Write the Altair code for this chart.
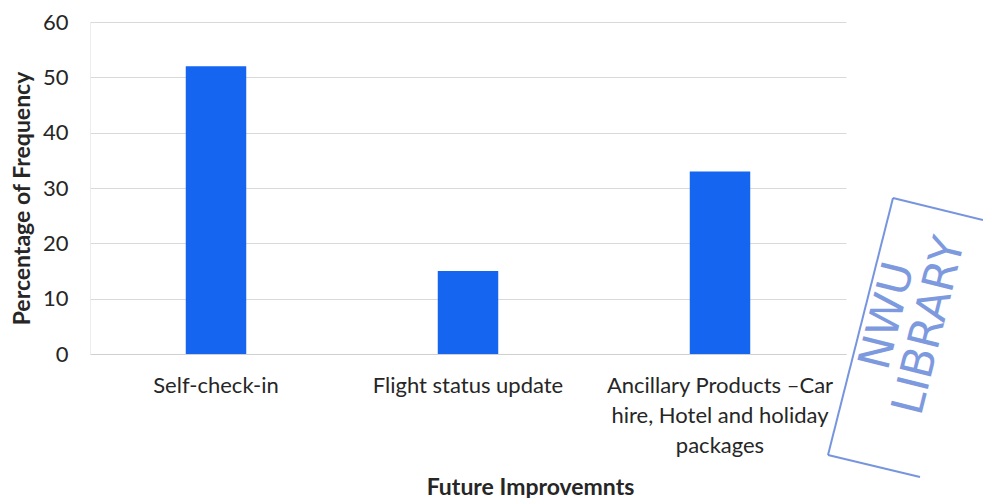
import altair as alt
import pandas as pd

categories = [
    "Self-check-in",
    "Flight status update",
    "Ancillary Products \u2013Car hire, Hotel and holiday packages",
]
values = [52, 15, 33]
y_ticks = [0, 10, 20, 30, 40, 50, 60]
stamp_lines = ["NWU", "LIBRARY"]

df = pd.DataFrame({"category": categories, "value": values})

label_expr = (
    "datum.label == 'Ancillary Products \u2013Car hire, Hotel and holiday packages' ? "
    "['Ancillary Products \u2013Car', 'hire, Hotel and holiday', 'packages'] : datum.label"
)

FONT = "Lato"
STAMP = "#5f82d8"

bars = alt.Chart(df).mark_bar(color="#1565f0").encode(
    x=alt.X(
        "category:N",
        sort=categories,
        scale=alt.Scale(paddingInner=0.76, paddingOuter=0.38),
        axis=alt.Axis(
            title="Future Improvemnts",
            labelAngle=0,
            labelExpr=label_expr,
            labelFont=FONT,
            labelFontSize=22,
            labelColor="#262626",
            labelPadding=21,
            labelLineHeight=30,
            labelLimit=0,
            ticks=False,
            domainColor="#d0d0d0",
            titleFont=FONT,
            titleFontSize=23,
            titleFontWeight="bold",
            titleColor="#262626",
            titleX=440,
            titleY=140,
            titleBaseline="alphabetic",
            titleAnchor="middle",
            titleAlign="center",
        ),
    ),
    y=alt.Y(
        "value:Q",
        scale=alt.Scale(domain=[0, 60]),
        axis=alt.Axis(
            title="Percentage of Frequency",
            values=y_ticks,
            labelFont=FONT,
            labelFontSize=22,
            labelColor="#262626",
            labelPadding=22,
            ticks=False,
            domainColor="#ececec",
            gridColor="#d9d9d9",
            titleFont=FONT,
            titleFontSize=23,
            titleFontWeight="bold",
            titleColor="#262626",
            titleAngle=270,
            titleX=-68,
            titleY=176,
            titleBaseline="middle",
            titleAlign="center",
        ),
    ),
)

stamp_df = pd.DataFrame({"t": stamp_lines})
stamp1 = alt.Chart(stamp_df.iloc[[0]]).mark_text(
    font="DejaVu Sans", fontSize=44, color=STAMP, opacity=0.8, angle=284,
    align="center", baseline="middle"
).encode(text="t:N", x=alt.value(798), y=alt.value(294))
stamp2 = alt.Chart(stamp_df.iloc[[1]]).mark_text(
    font="DejaVu Sans", fontSize=44, color=STAMP, opacity=0.8, angle=284,
    align="center", baseline="middle"
).encode(text="t:N", x=alt.value(840), y=alt.value(304))

rule_kw = dict(color=STAMP, strokeWidth=2, opacity=0.85)
frame_left = alt.Chart(stamp_df.iloc[[0]]).mark_rule(**rule_kw).encode(
    x=alt.value(803), y=alt.value(176), x2=alt.value(738), y2=alt.value(433))
frame_top = alt.Chart(stamp_df.iloc[[0]]).mark_rule(**rule_kw).encode(
    x=alt.value(803), y=alt.value(176), x2=alt.value(893), y2=alt.value(198))
frame_bottom = alt.Chart(stamp_df.iloc[[0]]).mark_rule(**rule_kw).encode(
    x=alt.value(738), y=alt.value(433), x2=alt.value(830), y2=alt.value(455))

chart = alt.layer(bars, stamp1, stamp2, frame_left, frame_top, frame_bottom).properties(
    width=756,
    height=332,
    autosize=alt.AutoSizeParams(type="none"),
    padding={"left": 90, "top": 22, "right": 137, "bottom": 144},
).configure(background="white").configure_view(stroke=None)

chart.save("out.html", embed_options={"renderer": "svg", "actions": False})
